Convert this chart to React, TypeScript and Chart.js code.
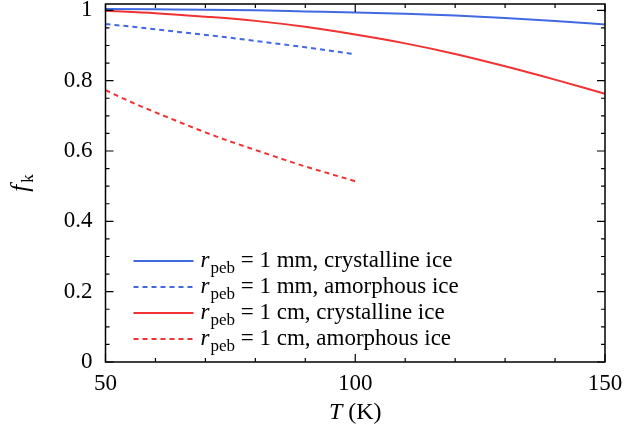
import { useEffect, useRef } from "react";
import { Chart, registerables } from "chart.js";

Chart.register(...registerables);

// ---- data ----
const tempsCrystalline = [50, 60, 70, 80, 90, 100, 110, 120, 130, 140, 150];
const mmCrystalline = [1.004, 1.003, 1.002, 1.0, 0.997, 0.994, 0.99, 0.985, 0.978, 0.97, 0.96];
const cmCrystalline = [0.999, 0.992, 0.982, 0.97, 0.953, 0.931, 0.906, 0.876, 0.841, 0.803, 0.763];

const tempsAmorphous = [50, 55, 60, 65, 70, 75, 80, 85, 90, 95, 100];
const mmAmorphous = [0.961, 0.954, 0.946, 0.938, 0.93, 0.922, 0.913, 0.904, 0.895, 0.885, 0.875];
const cmAmorphous = [0.773, 0.74, 0.71, 0.681, 0.653, 0.627, 0.603, 0.579, 0.556, 0.535, 0.514];

const xMajorTicks = [50, 100, 150];
const xMinorTicks = [60, 70, 80, 90, 110, 120, 130, 140];
const yMajorTicks = [0, 0.2, 0.4, 0.6, 0.8, 1];
const yTickLabels = ["0", "0.2", "0.4", "0.6", "0.8", "1"];
const yMinorTicks = [0.05, 0.1, 0.15, 0.25, 0.3, 0.35, 0.45, 0.5, 0.55, 0.65, 0.7, 0.75, 0.85, 0.9, 0.95];

const legendRest = [
  " = 1 mm, crystalline ice",
  " = 1 mm, amorphous ice",
  " = 1 cm, crystalline ice",
  " = 1 cm, amorphous ice",
];

const BLUE = "rgb(65,105,225)";
const RED = "rgb(240,50,50)";
const SERIF = "'Liberation Serif', 'DejaVu Serif', serif";

const toPoints = (xs: number[], ys: number[]) => xs.map((x, i) => ({ x, y: ys[i] }));

const decorPlugin = {
  id: "decor",
  afterDraw(chart: any) {
    const { ctx, chartArea } = chart;
    const xs = chart.scales.x;
    const ys = chart.scales.y;
    const { left, right, top, bottom } = chartArea;
    ctx.save();
    ctx.strokeStyle = "#000";
    ctx.fillStyle = "#000";
    ctx.setLineDash([]);
    ctx.lineWidth = 1.5;
    ctx.strokeRect(left, top, right - left, bottom - top);

    ctx.lineWidth = 1.2;
    const major = 8;
    const minor = 4;
    const drawX = (v: number, len: number) => {
      const px = xs.getPixelForValue(v);
      ctx.beginPath();
      ctx.moveTo(px, bottom);
      ctx.lineTo(px, bottom - len);
      ctx.moveTo(px, top);
      ctx.lineTo(px, top + len);
      ctx.stroke();
    };
    const drawY = (v: number, len: number) => {
      const py = ys.getPixelForValue(v);
      ctx.beginPath();
      ctx.moveTo(left, py);
      ctx.lineTo(left + len, py);
      ctx.moveTo(right, py);
      ctx.lineTo(right - len, py);
      ctx.stroke();
    };
    xMajorTicks.forEach((v) => drawX(v, major));
    xMinorTicks.forEach((v) => drawX(v, minor));
    yMajorTicks.forEach((v) => drawY(v, major));
    yMinorTicks.forEach((v) => drawY(v, minor));

    // tick labels
    ctx.font = `23px ${SERIF}`;
    ctx.textAlign = "center";
    ctx.textBaseline = "middle";
    xMajorTicks.forEach((v) => {
      ctx.fillText(String(v), xs.getPixelForValue(v), bottom + 22);
    });
    ctx.textAlign = "right";
    yMajorTicks.forEach((v, i) => {
      ctx.fillText(yTickLabels[i], left - 13, ys.getPixelForValue(v));
    });

    // x title: T (K)
    ctx.textAlign = "left";
    ctx.textBaseline = "alphabetic";
    ctx.font = `italic 24px ${SERIF}`;
    const tW = ctx.measureText("T").width;
    ctx.font = `24px ${SERIF}`;
    const kW = ctx.measureText(" (K)").width;
    const cx = (left + right) / 2;
    const xStart = cx - (tW + kW) / 2;
    const xBase = bottom + 57;
    ctx.font = `italic 24px ${SERIF}`;
    ctx.fillText("T", xStart, xBase);
    ctx.font = `24px ${SERIF}`;
    ctx.fillText(" (K)", xStart + tW, xBase);

    // y title: f_k rotated
    ctx.save();
    const cy = (top + bottom) / 2;
    ctx.translate(28, cy);
    ctx.rotate(-Math.PI / 2);
    ctx.font = `italic 25px ${SERIF}`;
    const fW = ctx.measureText("f").width;
    ctx.font = `17px ${SERIF}`;
    const subW = ctx.measureText("k").width;
    const startY = -(fW + subW + 2) / 2;
    ctx.font = `italic 25px ${SERIF}`;
    ctx.fillText("f", startY, 0);
    ctx.font = `17px ${SERIF}`;
    ctx.fillText("k", startY + fW + 2, 5);
    ctx.restore();

    // legend
    chart.data.datasets.forEach((ds: any, i: number) => {
      const ly = bottom - 101 + i * 26;
      ctx.strokeStyle = ds.borderColor;
      ctx.lineWidth = 2;
      ctx.setLineDash(ds.borderDash || []);
      ctx.beginPath();
      ctx.moveTo(left + 28, ly);
      ctx.lineTo(left + 88, ly);
      ctx.stroke();
      ctx.setLineDash([]);
      ctx.fillStyle = "#000";
      const tx = left + 95;
      const base = ly + 6;
      ctx.font = `italic 23px ${SERIF}`;
      ctx.fillText("r", tx, base);
      const rW = ctx.measureText("r").width;
      ctx.font = `17px ${SERIF}`;
      ctx.fillText("peb", tx + rW + 1, base + 6);
      const pW = ctx.measureText("peb").width;
      ctx.font = `23px ${SERIF}`;
      ctx.fillText(legendRest[i], tx + rW + 1 + pW, base);
    });
    ctx.restore();
  },
};

export default function App() {
  const canvasRef = useRef<HTMLCanvasElement | null>(null);

  useEffect(() => {
    document.body.style.margin = "0";
    const canvas = canvasRef.current;
    if (!canvas) return;
    const chart = new Chart(canvas, {
      type: "line",
      data: {
        datasets: [
          {
            label: "r_peb = 1 mm, crystalline ice",
            data: toPoints(tempsCrystalline, mmCrystalline),
            borderColor: BLUE,
            borderWidth: 2,
            pointRadius: 0,
            cubicInterpolationMode: "monotone",
          },
          {
            label: "r_peb = 1 mm, amorphous ice",
            data: toPoints(tempsAmorphous, mmAmorphous),
            borderColor: BLUE,
            borderWidth: 2,
            borderDash: [5, 4],
            pointRadius: 0,
            cubicInterpolationMode: "monotone",
          },
          {
            label: "r_peb = 1 cm, crystalline ice",
            data: toPoints(tempsCrystalline, cmCrystalline),
            borderColor: RED,
            borderWidth: 2,
            pointRadius: 0,
            cubicInterpolationMode: "monotone",
          },
          {
            label: "r_peb = 1 cm, amorphous ice",
            data: toPoints(tempsAmorphous, cmAmorphous),
            borderColor: RED,
            borderWidth: 2,
            borderDash: [5, 4],
            pointRadius: 0,
            cubicInterpolationMode: "monotone",
          },
        ],
      },
      options: {
        animation: false,
        responsive: false,
        events: [],
        layout: { padding: { left: 105.5, right: 20, top: 4, bottom: 75 } },
        plugins: { legend: { display: false }, tooltip: { enabled: false } },
        scales: {
          x: { type: "linear", min: 50, max: 150, display: false },
          y: { type: "linear", min: 0, max: 1.018, display: false },
        },
      },
      plugins: [decorPlugin],
    });
    return () => chart.destroy();
  }, []);

  return (
    <div style={{ width: 625, height: 437, background: "#fff" }}>
      <canvas ref={canvasRef} width={625} height={437} style={{ display: "block" }} />
    </div>
  );
}
